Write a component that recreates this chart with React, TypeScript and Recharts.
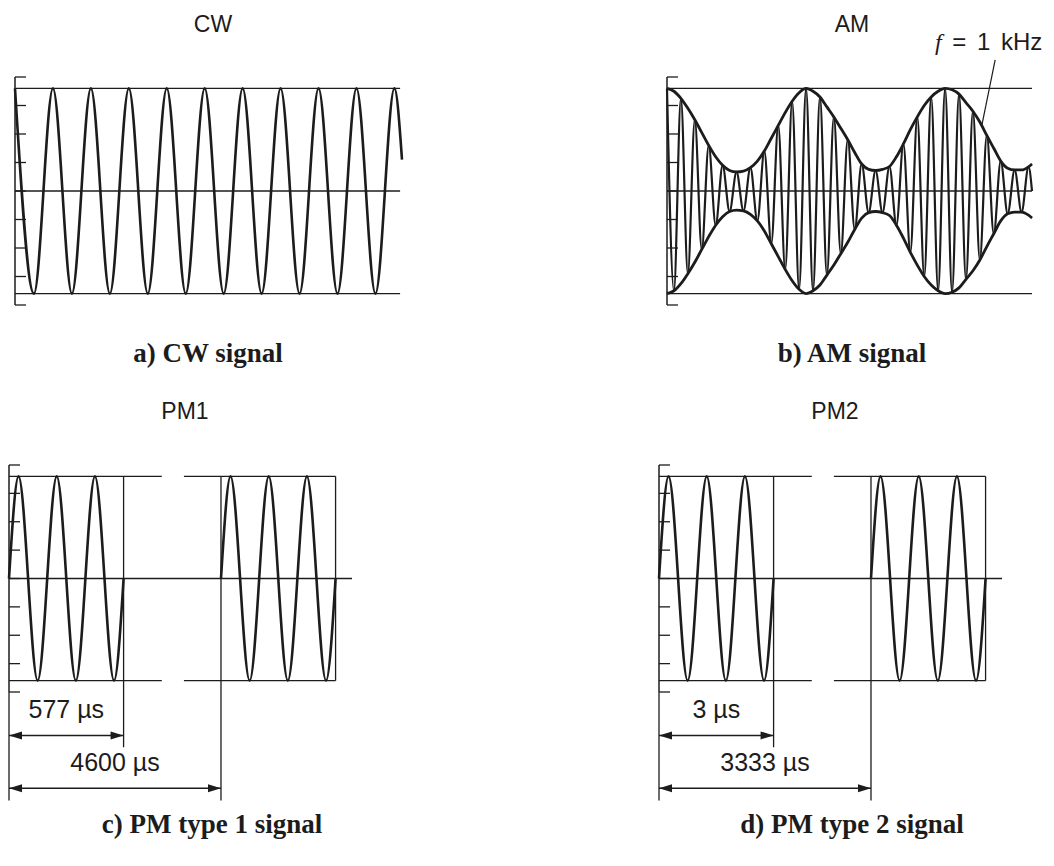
import React from "react";
import { LineChart, Line, XAxis, YAxis, ReferenceLine } from "recharts";

const INK = "#1c1c1c";
const Y_TICKS = [-4, -3, -2, -1, 0, 1, 2, 3, 4];
const LEVEL = 3.6;

// CW: extrema of the carrier (units = carrier periods)
const cwTimes = [0, 0.5, 1, 1.5, 2, 2.5, 3, 3.5, 4, 4.5, 5, 5.5, 6, 6.5, 7, 7.5, 8, 8.5, 9, 9.5, 10, 10.2];
const cwValues = [3.6, -3.6, 3.6, -3.6, 3.6, -3.6, 3.6, -3.6, 3.6, -3.6, 3.6, -3.6, 3.6, -3.6, 3.6, -3.6, 3.6, -3.6, 3.6, -3.6, 3.6, 1.1];

// AM: envelope height read at every carrier half period
const amEnvelope = [
  3.6, 3.5, 3.25, 2.9, 2.5, 2.05, 1.6, 1.2, 0.9, 0.72, 0.67, 0.7, 0.82, 1.05, 1.4, 1.85, 2.3, 2.75, 3.15, 3.45,
  3.6, 3.5, 3.3, 2.95, 2.6, 2.2, 1.8, 1.35, 0.95, 0.76, 0.72, 0.76, 0.86, 1.2, 1.65, 2.15, 2.6, 3.0, 3.3, 3.5,
  3.6, 3.55, 3.4, 3.1, 2.8, 2.42, 1.95, 1.5, 1.05, 0.8, 0.74, 0.74, 0.85,
];
const amEndTime = 52.5;
const amEndEnvelope = 0.95;

// PM bursts (null = gap between bursts)
const pm1Times = [0, 0.25, 0.75, 1.25, 1.75, 2.25, 2.75, 3, 4.3, 5.55, 5.8, 6.3, 6.8, 7.3, 7.8, 8.3, 8.55];
const pm1Values = [0, 3.6, -3.6, 3.6, -3.6, 3.6, -3.6, 0, null, 0, 3.6, -3.6, 3.6, -3.6, 3.6, -3.6, 0];
const pm2Times = [0, 0.25, 0.75, 1.25, 1.75, 2.25, 2.75, 3, 4.3, 5.55, 5.8, 6.3, 6.8, 7.3, 7.8, 8.3, 8.55];
const pm2Values = [0, 3.6, -3.6, 3.6, -3.6, 3.6, -3.6, 0, null, 0, 3.6, -3.6, 3.6, -3.6, 3.6, -3.6, 0];

const pm1Labels = ["577 µs", "4600 µs"];
const pm2Labels = ["3 µs", "3333 µs"];
const burstEnd = 3;
const frameEnd = 5.55;
const secondEnd = 8.55;

const titles = ["CW", "AM", "PM1", "PM2"];
const captions = ["a) CW signal", "b) AM signal", "c) PM type 1 signal", "d) PM type 2 signal"];

const cwData = cwTimes.map((t, i) => ({ t, v: cwValues[i] }));
const amData = [
  ...amEnvelope.map((e, i) => ({ t: i, carrier: i % 2 === 0 ? e : -e, up: e, low: -e })),
  { t: amEndTime, carrier: 0, up: amEndEnvelope, low: -amEndEnvelope },
];
const pm1Data = pm1Times.map((t, i) => ({ t, v: pm1Values[i] }));
const pm2Data = pm2Times.map((t, i) => ({ t, v: pm2Values[i] }));

type M = { top: number; right: number; bottom: number; left: number };

const NoLabel = () => <g />;

function Scope(props: {
  left: number; top: number; w: number; h: number; m: M; xMax: number; children: React.ReactNode;
}) {
  const { left, top, w, h, m, xMax, children } = props;
  return (
    <div style={{ position: "absolute", left: left - m.left, top: top - m.top }}>
      <LineChart width={w + m.left + m.right} height={h + m.top + m.bottom} margin={m}>
        <XAxis type="number" dataKey="t" domain={[0, xMax]} hide />
        <YAxis
          type="number"
          domain={[-4, 4]}
          ticks={Y_TICKS}
          interval={0}
          mirror
          tick={NoLabel}
          tickSize={11}
          axisLine={{ stroke: INK, strokeWidth: 1.5 }}
          tickLine={{ stroke: INK, strokeWidth: 1.3 }}
        />
        {children}
      </LineChart>
    </div>
  );
}

const hline = (x1: number, x2: number, y: number, key: string) => (
  <ReferenceLine key={key} segment={[{ x: x1, y }, { x: x2, y }]} stroke={INK} strokeWidth={1.3} ifOverflow="visible" />
);
const vline = (x: number, y1: number, y2: number, key: string) => (
  <ReferenceLine key={key} segment={[{ x, y: y1 }, { x, y: y2 }]} stroke={INK} strokeWidth={1.3} ifOverflow="visible" />
);

const dimShape = (label: string) => (p: any) => {
  const { x1, y1, x2 } = p;
  const a = 13;
  const b = 4;
  return (
    <g>
      <line x1={x1} y1={y1} x2={x2} y2={y1} stroke={INK} strokeWidth={1.5} />
      <polygon points={`${x1},${y1} ${x1 + a},${y1 - b} ${x1 + a},${y1 + b}`} fill={INK} />
      <polygon points={`${x2},${y1} ${x2 - a},${y1 - b} ${x2 - a},${y1 + b}`} fill={INK} />
      <text x={(x1 + x2) / 2} y={y1 - 17} textAnchor="middle" fontFamily="Liberation Sans, Arial, sans-serif" fontSize={25} fill={INK}>
        {label}
      </text>
    </g>
  );
};

function PmScope({ left, data, labels }: { left: number; data: { t: number; v: number | null }[]; labels: string[] }) {
  return (
    <Scope left={left} top={465} w={343} h={227} m={{ top: 10, right: 10, bottom: 120, left: 10 }} xMax={8.98}>
      {hline(0, 8.98, 0, "c")}
      {hline(0, 4.0, LEVEL, "t1")}
      {hline(0, 4.0, -LEVEL, "b1")}
      {hline(4.58, secondEnd, LEVEL, "t2")}
      {hline(4.58, secondEnd, -LEVEL, "b2")}
      {vline(0, -4, -7.82, "ax")}
      {vline(burstEnd, LEVEL, -5.95, "v1")}
      {vline(frameEnd, LEVEL, -7.82, "v2")}
      {vline(secondEnd, LEVEL, -LEVEL, "v3")}
      <ReferenceLine segment={[{ x: 0, y: -5.53 }, { x: burstEnd, y: -5.53 }]} ifOverflow="visible" shape={dimShape(labels[0])} />
      <ReferenceLine segment={[{ x: 0, y: -7.39 }, { x: frameEnd, y: -7.39 }]} ifOverflow="visible" shape={dimShape(labels[1])} />
      <Line data={data} dataKey="v" type="monotone" stroke={INK} strokeWidth={2.6} dot={false} activeDot={false} connectNulls={false} isAnimationActive={false} />
    </Scope>
  );
}

const sans = "Liberation Sans, Arial, sans-serif";
const serif = "Liberation Serif, serif";

function Txt({ x, y, size, text, family, bold }: { x: number; y: number; size: number; text: string; family: string; bold?: boolean }) {
  return (
    <div
      style={{
        position: "absolute", left: x - 200, top: y - size * 0.85, width: 400, textAlign: "center",
        fontFamily: family, fontSize: size, lineHeight: 1, fontWeight: bold ? 700 : 400, color: INK, whiteSpace: "nowrap",
      }}
    >
      {text}
    </div>
  );
}

export default function App() {
  return (
    <div style={{ position: "absolute", left: 0, top: 0, width: 1054, height: 866, background: "#fff", overflow: "hidden" }}>
      <Txt x={213} y={33} size={23} text={titles[0]} family={sans} />
      <Txt x={852} y={33} size={23} text={titles[1]} family={sans} />
      <Txt x={185} y={420} size={23} text={titles[2]} family={sans} />
      <Txt x={835} y={420} size={23} text={titles[3]} family={sans} />

      <Scope left={15} top={77} w={387} h={228} m={{ top: 10, right: 10, bottom: 10, left: 10 }} xMax={10.2}>
        {hline(0, 10.15, LEVEL, "t")}
        {hline(0, 10.15, 0, "c")}
        {hline(0, 10.15, -LEVEL, "b")}
        <Line data={cwData} dataKey="v" type="monotone" stroke={INK} strokeWidth={2.6} dot={false} activeDot={false} isAnimationActive={false} />
      </Scope>

      <Scope left={667} top={77} w={365} h={228} m={{ top: 25, right: 10, bottom: 10, left: 10 }} xMax={amEndTime}>
        {hline(0, amEndTime, LEVEL, "t")}
        {hline(0, amEndTime, 0, "c")}
        {hline(0, amEndTime, -LEVEL, "b")}
        <ReferenceLine segment={[{ x: 47.2, y: 4.6 }, { x: 45.3, y: 2.32 }]} stroke={INK} strokeWidth={1.2} ifOverflow="visible" />
        <Line data={amData} dataKey="carrier" type="monotone" stroke={INK} strokeWidth={2.2} dot={false} activeDot={false} isAnimationActive={false} />
        <Line data={amData} dataKey="up" type="monotone" stroke={INK} strokeWidth={2.8} dot={false} activeDot={false} isAnimationActive={false} />
        <Line data={amData} dataKey="low" type="monotone" stroke={INK} strokeWidth={2.8} dot={false} activeDot={false} isAnimationActive={false} />
      </Scope>
      <div style={{ position: "absolute", left: 935, top: 50 - 24 * 0.85, fontFamily: sans, fontSize: 24, lineHeight: 1, color: INK, whiteSpace: "nowrap", wordSpacing: 4 }}>
        <span style={{ fontFamily: "Liberation Serif, serif", fontStyle: "italic" }}>f</span> = 1 kHz
      </div>

      <PmScope left={9} data={pm1Data} labels={pm1Labels} />
      <PmScope left={659} data={pm2Data} labels={pm2Labels} />

      <Txt x={208} y={363} size={27} text={captions[0]} family={serif} bold />
      <Txt x={852} y={363} size={27} text={captions[1]} family={serif} bold />
      <Txt x={212} y={834} size={27} text={captions[2]} family={serif} bold />
      <Txt x={852} y={834} size={27} text={captions[3]} family={serif} bold />
    </div>
  );
}
